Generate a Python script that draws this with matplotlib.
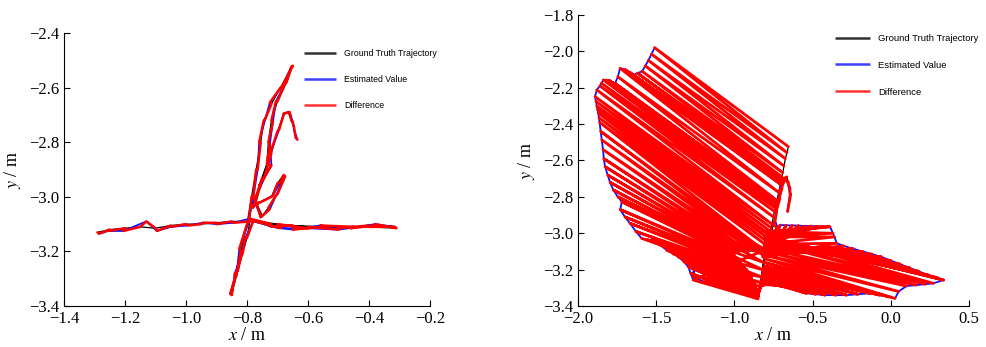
import numpy as np
import matplotlib
matplotlib.use("Agg")
import matplotlib.pyplot as plt

# ---- run (a): ground truth and estimate ----
gt_a_x = [-1.29, -1.25, -1.20, -1.15, -1.10, -1.05, -1.00, -0.95, -0.90, -0.85, -0.79, -0.72, -0.65, -0.55, -0.45, -0.38, -0.31,
          -0.40, -0.50, -0.60, -0.70, -0.79,
          -0.80, -0.815, -0.83, -0.84, -0.85,
          -0.84, -0.82, -0.80, -0.785, -0.77, -0.755, -0.745, -0.72, -0.69, -0.65,
          -0.67, -0.70, -0.72, -0.73, -0.735, -0.76, -0.78,
          -0.76, -0.72, -0.70, -0.68, -0.70, -0.73, -0.75,
          -0.77, -0.75, -0.72, -0.70, -0.68, -0.665, -0.655, -0.645, -0.64]
gt_a_y = [-3.13, -3.12, -3.115, -3.11, -3.115, -3.105, -3.10, -3.10, -3.095, -3.09, -3.09, -3.10, -3.105, -3.11, -3.11, -3.105, -3.115,
          -3.11, -3.115, -3.11, -3.10, -3.085,
          -3.15, -3.21, -3.27, -3.31, -3.36,
          -3.30, -3.20, -3.10, -3.00, -2.90, -2.80, -2.72, -2.66, -2.60, -2.52,
          -2.58, -2.65, -2.72, -2.80, -2.88, -2.96, -3.04,
          -3.02, -3.00, -2.95, -2.92, -2.99, -3.04, -3.07,
          -3.02, -2.93, -2.84, -2.76, -2.70, -2.69, -2.72, -2.75, -2.785]
est_a_x = [-1.285, -1.255, -1.205, -1.13, -1.095, -1.05, -0.995, -0.945, -0.90, -0.845, -0.79, -0.72, -0.65, -0.56, -0.46, -0.38, -0.315,
           -0.40, -0.50, -0.60, -0.69, -0.78,
           -0.805, -0.82, -0.84, -0.845, -0.855,
           -0.835, -0.825, -0.795, -0.78, -0.765, -0.76, -0.74, -0.725, -0.685, -0.655,
           -0.675, -0.705, -0.715, -0.725, -0.72, -0.755, -0.785,
           -0.765, -0.715, -0.69, -0.675, -0.705, -0.725, -0.755,
           -0.775, -0.745, -0.725, -0.695, -0.68, -0.66, -0.65, -0.645, -0.635]
est_a_y = [-3.135, -3.125, -3.125, -3.09, -3.125, -3.11, -3.105, -3.095, -3.10, -3.095, -3.08, -3.11, -3.12, -3.105, -3.115, -3.10, -3.11,
           -3.105, -3.12, -3.115, -3.115, -3.09,
           -3.15, -3.22, -3.28, -3.32, -3.355,
           -3.29, -3.19, -3.095, -3.005, -2.90, -2.80, -2.715, -2.655, -2.595, -2.525,
           -2.585, -2.65, -2.725, -2.805, -2.885, -2.955, -3.035,
           -3.025, -2.995, -2.945, -2.925, -2.995, -3.045, -3.075,
           -3.015, -2.935, -2.845, -2.755, -2.695, -2.69, -2.725, -2.755, -2.79]

# ---- run (b): ground truth and estimate ----
gt_b_x = [-0.655, -0.664, -0.674, -0.683, -0.691, -0.696, -0.700, -0.701, -0.703, -0.706, -0.717, -0.728, -0.729, -0.730,
          -0.732, -0.734, -0.739, -0.744, -0.751, -0.760, -0.765, -0.770, -0.775, -0.780, -0.785, -0.790, -0.82,
          -0.85, -0.88, -0.91, -0.94, -0.97, -0.99, -1.01, -1.03,
          -1.00, -0.98, -0.96, -0.94, -0.92, -0.90, -0.89, -0.88, -0.87, -0.865, -0.86, -0.855, -0.85, -0.85, -0.85, -0.85,
          -0.80, -0.81, -0.815, -0.82, -0.825, -0.83, -0.835, -0.84, -0.842, -0.844, -0.846, -0.848, -0.85,
          -0.845, -0.84, -0.838, -0.835, -0.833, -0.83, -0.828, -0.826, -0.824, -0.822, -0.82,
          -0.818, -0.816, -0.814, -0.812, -0.81, -0.808, -0.806, -0.804, -0.80, -0.795, -0.79,
          -0.79, -0.79, -0.795, -0.80, -0.80, -0.805, -0.81, -0.81, -0.815, -0.815, -0.82, -0.82,
          -0.81, -0.80, -0.79, -0.785, -0.78, -0.775, -0.77, -0.765, -0.76, -0.755, -0.75,
          -0.77, -0.75, -0.73, -0.71, -0.695, -0.68, -0.665, -0.655, -0.645, -0.64]
gt_b_y = [-2.524, -2.557, -2.59, -2.63, -2.667, -2.69, -2.705, -2.71, -2.718, -2.73, -2.775, -2.82, -2.822, -2.825,
          -2.835, -2.845, -2.862, -2.88, -2.91, -2.95, -2.97, -2.99, -3.01, -3.03, -3.05, -3.07, -3.09,
          -3.09, -3.095, -3.10, -3.10, -3.10, -3.10, -3.10, -3.10,
          -3.12, -3.14, -3.16, -3.18, -3.20, -3.22, -3.24, -3.26, -3.28, -3.30, -3.31, -3.32, -3.33, -3.34, -3.35, -3.36,
          -3.09, -3.12, -3.16, -3.20, -3.24, -3.27, -3.29, -3.31, -3.32, -3.33, -3.34, -3.35, -3.36,
          -3.33, -3.31, -3.30, -3.29, -3.28, -3.27, -3.26, -3.25, -3.24, -3.23, -3.22,
          -3.21, -3.20, -3.19, -3.18, -3.16, -3.14, -3.12, -3.10, -3.08, -3.05, -3.02,
          -3.02, -3.03, -3.04, -3.05, -3.06, -3.07, -3.08, -3.09, -3.10, -3.11, -3.12, -3.13,
          -3.06, -3.02, -2.99, -3.00, -3.02, -3.04, -3.06, -3.08, -3.09, -3.10, -3.10,
          -3.02, -2.95, -2.88, -2.81, -2.75, -2.71, -2.69, -2.72, -2.75, -2.785]
est_b_x = [-1.51, -1.53, -1.55, -1.57, -1.59, -1.62, -1.646, -1.67, -1.70, -1.731, -1.745, -1.763, -1.78, -1.80,
           -1.82, -1.838, -1.85, -1.86, -1.88, -1.891, -1.885, -1.88, -1.875, -1.87, -1.866, -1.862, -1.855,
           -1.848, -1.84, -1.835, -1.827, -1.81, -1.795, -1.774, -1.745,
           -1.72, -1.73, -1.70, -1.668, -1.63, -1.593, -1.555, -1.518, -1.475, -1.433, -1.395, -1.359, -1.325, -1.295, -1.28, -1.263,
           -1.22, -1.235, -1.245, -1.255, -1.26, -1.262, -1.20, -1.14, -1.08, -1.02, -0.96, -0.90, -0.85,
           -0.82, -0.79, -0.74, -0.68, -0.623, -0.58, -0.538, -0.48, -0.42, -0.35, -0.282,
           -0.21, -0.133, -0.07, -0.01, 0.027, 0.05, 0.10, 0.16, 0.22, 0.272, 0.336,
           0.30, 0.24, 0.18, 0.12, 0.06, 0.00, -0.06, -0.12, -0.18, -0.24, -0.30, -0.346,
           -0.36, -0.37, -0.389, -0.43, -0.47, -0.51, -0.55, -0.59, -0.63, -0.67, -0.708,
           -0.72, -0.74, -0.73, -0.72, -0.71, -0.70, -0.685, -0.66, -0.645, -0.66]
est_b_y = [-1.98, -2.015, -2.05, -2.08, -2.11, -2.12, -2.13, -2.115, -2.10, -2.093, -2.14, -2.176, -2.17, -2.16,
           -2.158, -2.157, -2.175, -2.19, -2.212, -2.249, -2.275, -2.30, -2.32, -2.34, -2.365, -2.39, -2.44,
           -2.487, -2.54, -2.59, -2.634, -2.68, -2.72, -2.762, -2.80,
           -2.827, -2.87, -2.91, -2.945, -2.99, -3.028, -3.035, -3.037, -3.065, -3.092, -3.11, -3.129, -3.155, -3.184, -3.22, -3.257,
           -2.89, -2.96, -3.03, -3.10, -3.17, -3.24, -3.265, -3.28, -3.295, -3.31, -3.325, -3.34, -3.35,
           -3.26, -3.18, -3.22, -3.26, -3.294, -3.31, -3.33, -3.335, -3.34, -3.34, -3.34,
           -3.335, -3.33, -3.34, -3.35, -3.358, -3.32, -3.29, -3.285, -3.28, -3.275, -3.257,
           -3.245, -3.23, -3.21, -3.19, -3.17, -3.15, -3.13, -3.115, -3.10, -3.085, -3.07, -3.055,
           -3.02, -3.00, -2.964, -2.962, -2.962, -2.96, -2.96, -2.958, -2.957, -2.956, -2.955,
           -2.98, -2.93, -2.87, -2.82, -2.77, -2.72, -2.70, -2.72, -2.78, -2.88]

plt.rcParams["font.family"] = "Liberation Serif"
plt.rcParams["mathtext.fontset"] = "stix"


def zigzag(ax_, ay_, bx_, by_):
    # gt0, est0, gt1, est1, ... so every pair gets joined
    zx = np.ravel(np.column_stack([ax_, bx_]))
    zy = np.ravel(np.column_stack([ay_, by_]))
    return zx, zy


def draw_panel(ax, gx, gy, ex, ey, xlim, ylim, xticks, yticks, leg_anchor, leg_size, red_lw):
    ax.plot(gx, gy, color="black", linewidth=0.9, label="Ground Truth Trajectory")
    ax.plot(ex, ey, color="#1010ff", linewidth=1.3, label="Estimated Value")
    zx, zy = zigzag(gx, gy, ex, ey)
    ax.plot(zx, zy, color="#ff0000", linewidth=red_lw, solid_capstyle="round",
            solid_joinstyle="round", label="Difference")
    ax.set_xlim(xlim)
    ax.set_ylim(ylim)
    ax.set_xticks(xticks)
    ax.set_yticks(yticks)
    ax.spines["top"].set_visible(False)
    ax.spines["right"].set_visible(False)
    ax.tick_params(direction="in", labelsize=12, length=4)
    ax.set_xlabel("$x$ / m", fontsize=13, labelpad=0)
    ax.set_ylabel("$y$ / m", fontsize=13, labelpad=4)
    lg = ax.legend(loc="upper left", bbox_to_anchor=leg_anchor, frameon=False,
                   prop={"family": "Liberation Sans", "size": leg_size},
                   labelspacing=1.9, handlelength=3.7, handletextpad=0.9,
                   borderpad=0, borderaxespad=0)
    for h in lg.get_lines():
        h.set_linewidth(1.8)
        h.set_alpha(0.8)
        h.set_solid_capstyle("butt")


fig = plt.figure(figsize=(9.87, 3.47), dpi=100)
ax1 = fig.add_axes([0.0648, 0.118, 0.3709, 0.787])
ax2 = fig.add_axes([0.5856, 0.118, 0.3962, 0.839])

draw_panel(ax1, gt_a_x, gt_a_y, est_a_x, est_a_y, (-1.4, -0.2), (-3.4, -2.4),
           [-1.4, -1.2, -1.0, -0.8, -0.6, -0.4, -0.2], [-3.4, -3.2, -3.0, -2.8, -2.6, -2.4],
           (0.656, 0.94), 6.3, 1.8)
draw_panel(ax2, gt_b_x, gt_b_y, est_b_x, est_b_y, (-2.0, 0.5), (-3.4, -1.8),
           [-2.0, -1.5, -1.0, -0.5, 0.0, 0.5], [-3.4, -3.2, -3.0, -2.8, -2.6, -2.4, -2.2, -2.0, -1.8],
           (0.657, 0.935), 6.8, 2.0)

plt.savefig("out.png", dpi=100)
